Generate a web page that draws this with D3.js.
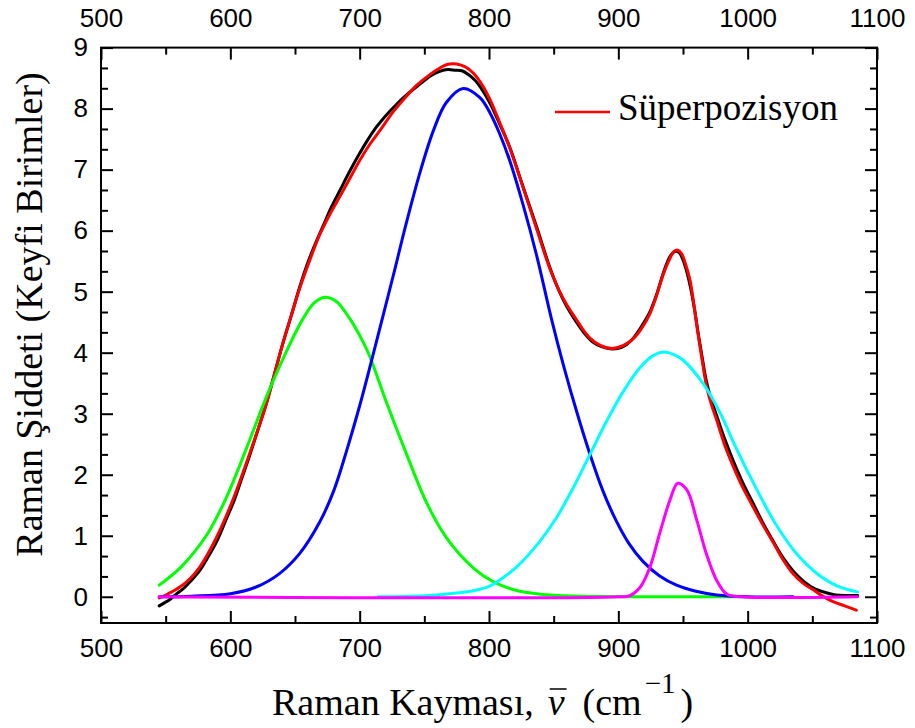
<!DOCTYPE html>
<html>
<head>
<meta charset="utf-8">
<script src="https://cdn.jsdelivr.net/npm/d3@7"></script>
<style>
  html, body { margin: 0; padding: 0; background: #ffffff; }
  svg { display: block; }
</style>
</head>
<body>
<svg id="chart" width="915" height="728"></svg>
<script>
// Raman shift (cm^-1) and intensity pairs for the measured spectrum
const measured = [
  [545,-0.15],[549,-0.10],[553,-0.05],[558,0.04],[563,0.12],[569,0.25],[576,0.42],[583,0.66],
  [590,0.93],[597,1.28],[603,1.58],[609,1.95],[615,2.32],[622,2.78],[628,3.18],[635,3.72],
  [641,4.18],[647,4.60],[654,5.10],[660,5.48],[666,5.80],[672,6.09],[678,6.38],[685,6.67],
  [692,6.96],[699,7.23],[706,7.48],[713,7.70],[720,7.88],[728,8.06],[736,8.22],[743,8.34],
  [750,8.46],[756,8.55],[762,8.61],[768,8.64],[774,8.63],[779,8.62],[784,8.56],[789,8.47],
  [795,8.30],[801,8.08],[808,7.76],[816,7.37],[826,6.74],[837,6.05],[847,5.40],[854,5.02],
  [860,4.76],[867,4.52],[873,4.34],[880,4.18],[887,4.10],[895,4.06],[903,4.09],[910,4.20],
  [917,4.40],[924,4.65],[930,4.98],[935,5.32],[940,5.58],[944,5.66],[947,5.64],[950,5.52],
  [953,5.32],[956,5.05],[959,4.70],[962,4.28],[965,3.90],[968,3.54],[972,3.22],[976,2.97],
  [982,2.60],[989,2.22],[996,1.88],[1004,1.54],[1012,1.20],[1020,0.90],[1028,0.62],[1036,0.40],
  [1044,0.24],[1052,0.13],[1060,0.07],[1068,0.03],[1076,0.02],[1085,0.02]
];

// Sum of the fitted bands (Süperpozisyon)
const superposition = [
  [545,-0.02],[552,0.05],[561,0.16],[569,0.30],[576.5,0.49],[589.5,0.98],[602,1.59],[615,2.35],
  [628,3.17],[635,3.72],[641,4.18],[647,4.60],[654,5.08],[662,5.55],[669,5.93],[677,6.27],
  [685,6.57],[693,6.88],[700,7.15],[708,7.42],[716,7.65],[726,7.95],[736,8.20],[744,8.38],
  [752,8.52],[760,8.64],[767,8.72],[775,8.73],[782,8.68],[788,8.58],[795,8.38],[801,8.14],
  [808.5,7.76],[816,7.36],[826.5,6.70],[837,6.02],[847,5.38],[854,5.03],[860,4.79],[867,4.56],
  [873,4.37],[878,4.24],[886,4.12],[895,4.07],[904,4.12],[912,4.24],[918,4.40],[924,4.62],
  [929,4.90],[935,5.30],[940,5.55],[943,5.66],[946,5.68],[949,5.62],[952,5.45],[955.4,5.19],
  [958,4.85],[961,4.40],[965,3.85],[968.3,3.44],[972,3.15],[976,2.90],[982,2.50],[989,2.13],
  [996,1.80],[1004,1.48],[1012,1.17],[1020,0.88],[1027,0.62],[1035,0.38],[1043,0.22],[1051,0.11],
  [1058,0.01],[1066,-0.08],[1075,-0.15],[1084,-0.22]
];

// Individual fitted bands
const band673 = [
  [545,0.19],[562,0.49],[582,1.02],[597,1.63],[613,2.46],[628,3.28],[644,4.05],[656,4.55],
  [665,4.82],[673,4.91],[682,4.84],[692,4.57],[703,4.16],[708,3.93],[721,3.17],[736,2.35],
  [752,1.53],[767,0.97],[788,0.47],[803,0.25],[820,0.11],[840,0.04],[860,0.015],[880,0.005],
  [900,0],[950,0],[1000,0]
];
const band780 = [
  [545,0],[570,0.01],[600,0.05],[620,0.16],[638,0.38],[654,0.72],[669,1.22],[680,1.74],
  [690,2.40],[700,3.13],[708,3.77],[718,4.60],[727,5.35],[736,6.12],[747,6.98],[757,7.64],
  [767,8.10],[780,8.33],[793,8.18],[801,7.92],[808,7.60],[816,7.15],[826,6.45],[837,5.58],
  [848,4.58],[858,3.76],[868,3.02],[878,2.34],[888,1.74],[898,1.26],[908,0.88],[919,0.58],
  [932,0.34],[945,0.19],[960,0.09],[976,0.03],[1000,0],[1035,0]
];
const band935 = [
  [714,0],[740,0.01],[760,0.03],[775,0.06],[788,0.10],[801,0.18],[808,0.27],[821,0.48],
  [839,0.90],[852,1.29],[865,1.78],[878,2.33],[891,2.88],[904,3.37],[917,3.76],[926,3.94],
  [935,4.01],[943,3.97],[950,3.88],[966,3.48],[979,3.00],[991,2.44],[1007,1.76],[1022,1.18],
  [1038,0.70],[1053,0.39],[1069,0.18],[1085,0.08]
];
const band946 = [
  [545,0],[900,0],[909,0.02],[917,0.16],[924.5,0.49],[932,1.04],[940,1.59],[946,1.86],
  [953,1.75],[960.6,1.26],[968,0.71],[976,0.27],[984,0.04],[995,0],[1085,0]
];

// Tick values
const xMajorTicks = [500, 600, 700, 800, 900, 1000, 1100];
const xMinorTicks = [550, 650, 750, 850, 950, 1050];
const yMajorTicks = [0, 1, 2, 3, 4, 5, 6, 7, 8, 9];
const yMinorTicks = d3.range(-1, 28).map(k => k / 3).filter(v => v > -0.43 && v < 9 && Math.abs(v - Math.round(v)) > 1e-6);

const legendLabel = "Süperpozisyon";
const xTitle = "Raman Kayması,";
const yTitle = "Raman Şiddeti (Keyfi Birimler)";

const series = [
  { data: measured,      color: "#000000" },
  { data: superposition, color: "#ff0000" },
  { data: band673,       color: "#00ff00" },
  { data: band780,       color: "#0000ff" },
  { data: band935,       color: "#00ffff" },
  { data: band946,       color: "#ff00ff" }
];

const svg = d3.select("#chart");
const plot = { left: 101, right: 877, top: 47.6, bottom: 623 };

const x = d3.scaleLinear().domain([500, 1100]).range([plot.left, plot.right]);
const y = d3.scaleLinear().domain([-0.43, 9]).range([plot.bottom, plot.top]);

const tickFont = "'Liberation Sans', Arial, sans-serif";
const serifFont = "'Liberation Serif', 'Times New Roman', serif";

// Curves
const line = d3.line().x(d => x(d[0])).y(d => y(d[1])).curve(d3.curveCatmullRom.alpha(0.5));
const curves = svg.append("g");
series.forEach(s => {
  curves.append("path")
    .datum(s.data)
    .attr("fill", "none")
    .attr("stroke", s.color)
    .attr("stroke-width", 3)
    .attr("stroke-linejoin", "round")
    .attr("stroke-linecap", "round")
    .attr("d", line);
});

// Axes with inward ticks
function styleAxis(g) {
  g.select(".domain").remove();
  g.selectAll(".tick line").attr("stroke", "#000").attr("stroke-width", 2);
  g.selectAll(".tick text").attr("font-family", tickFont).attr("font-size", 26).attr("fill", "#000");
}

const major = 12, minor = 7;

svg.append("g").attr("transform", `translate(0,${plot.bottom})`)
  .call(d3.axisBottom(x).tickValues(xMajorTicks).tickFormat(d3.format("d")).tickSizeInner(-major).tickSizeOuter(0).tickPadding(15.5))
  .call(styleAxis);
svg.append("g").attr("transform", `translate(0,${plot.bottom})`)
  .call(d3.axisBottom(x).tickValues(xMinorTicks).tickFormat("").tickSizeInner(-minor).tickSizeOuter(0))
  .call(styleAxis);

svg.append("g").attr("transform", `translate(0,${plot.top})`)
  .call(d3.axisTop(x).tickValues(xMajorTicks).tickFormat(d3.format("d")).tickSizeInner(-major).tickSizeOuter(0).tickPadding(20.6))
  .call(styleAxis);
svg.append("g").attr("transform", `translate(0,${plot.top})`)
  .call(d3.axisTop(x).tickValues(xMinorTicks).tickFormat("").tickSizeInner(-minor).tickSizeOuter(0))
  .call(styleAxis);

svg.append("g").attr("transform", `translate(${plot.left},0)`)
  .call(d3.axisLeft(y).tickValues(yMajorTicks).tickFormat(d3.format("d")).tickSizeInner(-major).tickSizeOuter(0).tickPadding(13))
  .call(styleAxis);
svg.append("g").attr("transform", `translate(${plot.left},0)`)
  .call(d3.axisLeft(y).tickValues(yMinorTicks).tickFormat("").tickSizeInner(-minor).tickSizeOuter(0))
  .call(styleAxis);

svg.append("g").attr("transform", `translate(${plot.right},0)`)
  .call(d3.axisRight(y).tickValues(yMajorTicks).tickFormat("").tickSizeInner(-major).tickSizeOuter(0))
  .call(styleAxis);
svg.append("g").attr("transform", `translate(${plot.right},0)`)
  .call(d3.axisRight(y).tickValues(yMinorTicks).tickFormat("").tickSizeInner(-minor).tickSizeOuter(0))
  .call(styleAxis);

// Frame
svg.append("rect")
  .attr("x", plot.left).attr("y", plot.top)
  .attr("width", plot.right - plot.left).attr("height", plot.bottom - plot.top)
  .attr("fill", "none").attr("stroke", "#000").attr("stroke-width", 2);

// Legend
const legend = svg.append("g");
legend.append("line")
  .attr("x1", 555).attr("x2", 610).attr("y1", 112).attr("y2", 112)
  .attr("stroke", "#ff0000").attr("stroke-width", 2.5);
legend.append("text")
  .attr("x", 618).attr("y", 120)
  .attr("font-family", serifFont).attr("font-size", 37).attr("fill", "#000")
  .text(legendLabel);

// X axis title: Raman Kayması, ν̄ (cm⁻¹)
const titleY = 715;
const xt = svg.append("g").attr("font-family", serifFont).attr("fill", "#000");
const t1 = xt.append("text").attr("x", 272).attr("y", titleY).attr("font-size", 38).text(xTitle);
let cx = 272 + t1.node().getComputedTextLength() + 14;
const nu = xt.append("text").attr("x", cx).attr("y", titleY).attr("font-size", 38).attr("font-style", "italic").text("ν");
const nuW = nu.node().getComputedTextLength();
xt.append("line")
  .attr("x1", cx + 2).attr("x2", cx + nuW + 2)
  .attr("y1", titleY - 26).attr("y2", titleY - 26)
  .attr("stroke", "#000").attr("stroke-width", 1.5);
cx += nuW + 18;
const t3 = xt.append("text").attr("x", cx).attr("y", titleY).attr("font-size", 38).text("(cm");
cx += t3.node().getComputedTextLength() + 3;
const t4 = xt.append("text").attr("x", cx).attr("y", titleY - 22).attr("font-size", 29).text("−1");
cx += t4.node().getComputedTextLength() + 5;
xt.append("text").attr("x", cx).attr("y", titleY).attr("font-size", 38).text(")");

// Y axis title
svg.append("text")
  .attr("transform", "translate(42,314.5) rotate(-90)")
  .attr("text-anchor", "middle")
  .attr("font-family", serifFont).attr("font-size", 38).attr("fill", "#000")
  .text(yTitle);
</script>
</body>
</html>
